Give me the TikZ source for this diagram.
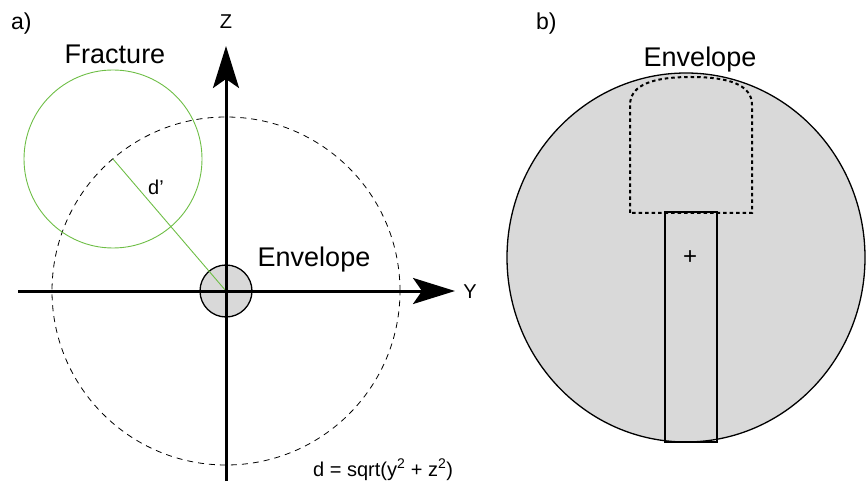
\documentclass[tikz,border=0pt]{standalone}
\usepackage{fontspec}
\setmainfont{Liberation Sans}
\usetikzlibrary{arrows.meta,shapes.geometric}
\definecolor{envgray}{RGB}{217,217,217}
\definecolor{fracgreen}{RGB}{110,190,70}
\begin{document}
\begin{tikzpicture}[x=1pt,y=-1pt,
  axis/.style={line width=3pt,-{Stealth[length=42pt,width=26pt,inset=9pt]}},
  bigtxt/.style={font=\fontsize{27}{32}\selectfont,inner sep=0pt},
  midtxt/.style={font=\fontsize{23}{27}\selectfont,inner sep=0pt},
  smalltxt/.style={font=\fontsize{20}{24}\selectfont,inner sep=0pt},
  outline/.style={draw=black,line width=1.3pt}]
\useasboundingbox (0,0) rectangle (866,486);
% ---------- panel a ----------
\coordinate (O) at (226,291);
\coordinate (Yl) at (18,291);
\coordinate (Yr) at (455,291);
\coordinate (Zb) at (226,481);
\coordinate (Zt) at (226,46);
\node[circle,draw,dashed,dash pattern=on 6pt off 5pt,line width=0.8pt,minimum size=348pt,inner sep=0pt] (dcirc) at (O) {};
\node[circle,outline,fill=envgray,minimum size=52pt,inner sep=0pt] (enva) at (O) {};
\node[circle,draw=fracgreen,line width=0.9pt,minimum size=178pt,inner sep=0pt] (frac) at (113,159) {};
\draw[fracgreen,line width=0.9pt] (frac.center) -- (O);
\draw[axis] (Yl) -- (Yr);
\draw[axis] (Zb) -- (Zt);
\node[midtxt,anchor=base west] (la) at (11,30) {a)};
\node[smalltxt,anchor=base] (lz) at (226,29) {Z};
\node[smalltxt,anchor=base] (ly) at (470,298) {Y};
\node[bigtxt,anchor=base] (lfrac) at (115,64) {Fracture};
\node[bigtxt,anchor=base] (lenva) at (314,266) {Envelope};
\node[smalltxt,anchor=base] (ld) at (156,195) {d’};
\node[smalltxt,anchor=base west] (lform) at (313,476) {d = sqrt(y\textsuperscript{2} + z\textsuperscript{2})};
% ---------- panel b ----------
\node[ellipse,outline,fill=envgray,minimum width=358pt,minimum height=369pt,inner sep=0pt] (envb) at (686,257.5) {};
\draw[line width=2pt,dash pattern=on 3.5pt off 3pt] (630,213) -- (630,105) .. controls (630,84) and (655,77) .. (691,77) .. controls (727,77) and (752,84) .. (752,105) -- (752,213) -- cycle;
\node[rectangle,outline,minimum width=52pt,minimum height=230pt,inner sep=0pt] (stem) at (691,327) {};
\node[font=\fontsize{24}{28}\selectfont,inner sep=0pt] (plus) at (690,258) {+};
\node[midtxt,anchor=base west] (lb) at (536,30) {b)};
\node[bigtxt,anchor=base] (lenvb) at (700,67) {Envelope};
\end{tikzpicture}
\end{document}
